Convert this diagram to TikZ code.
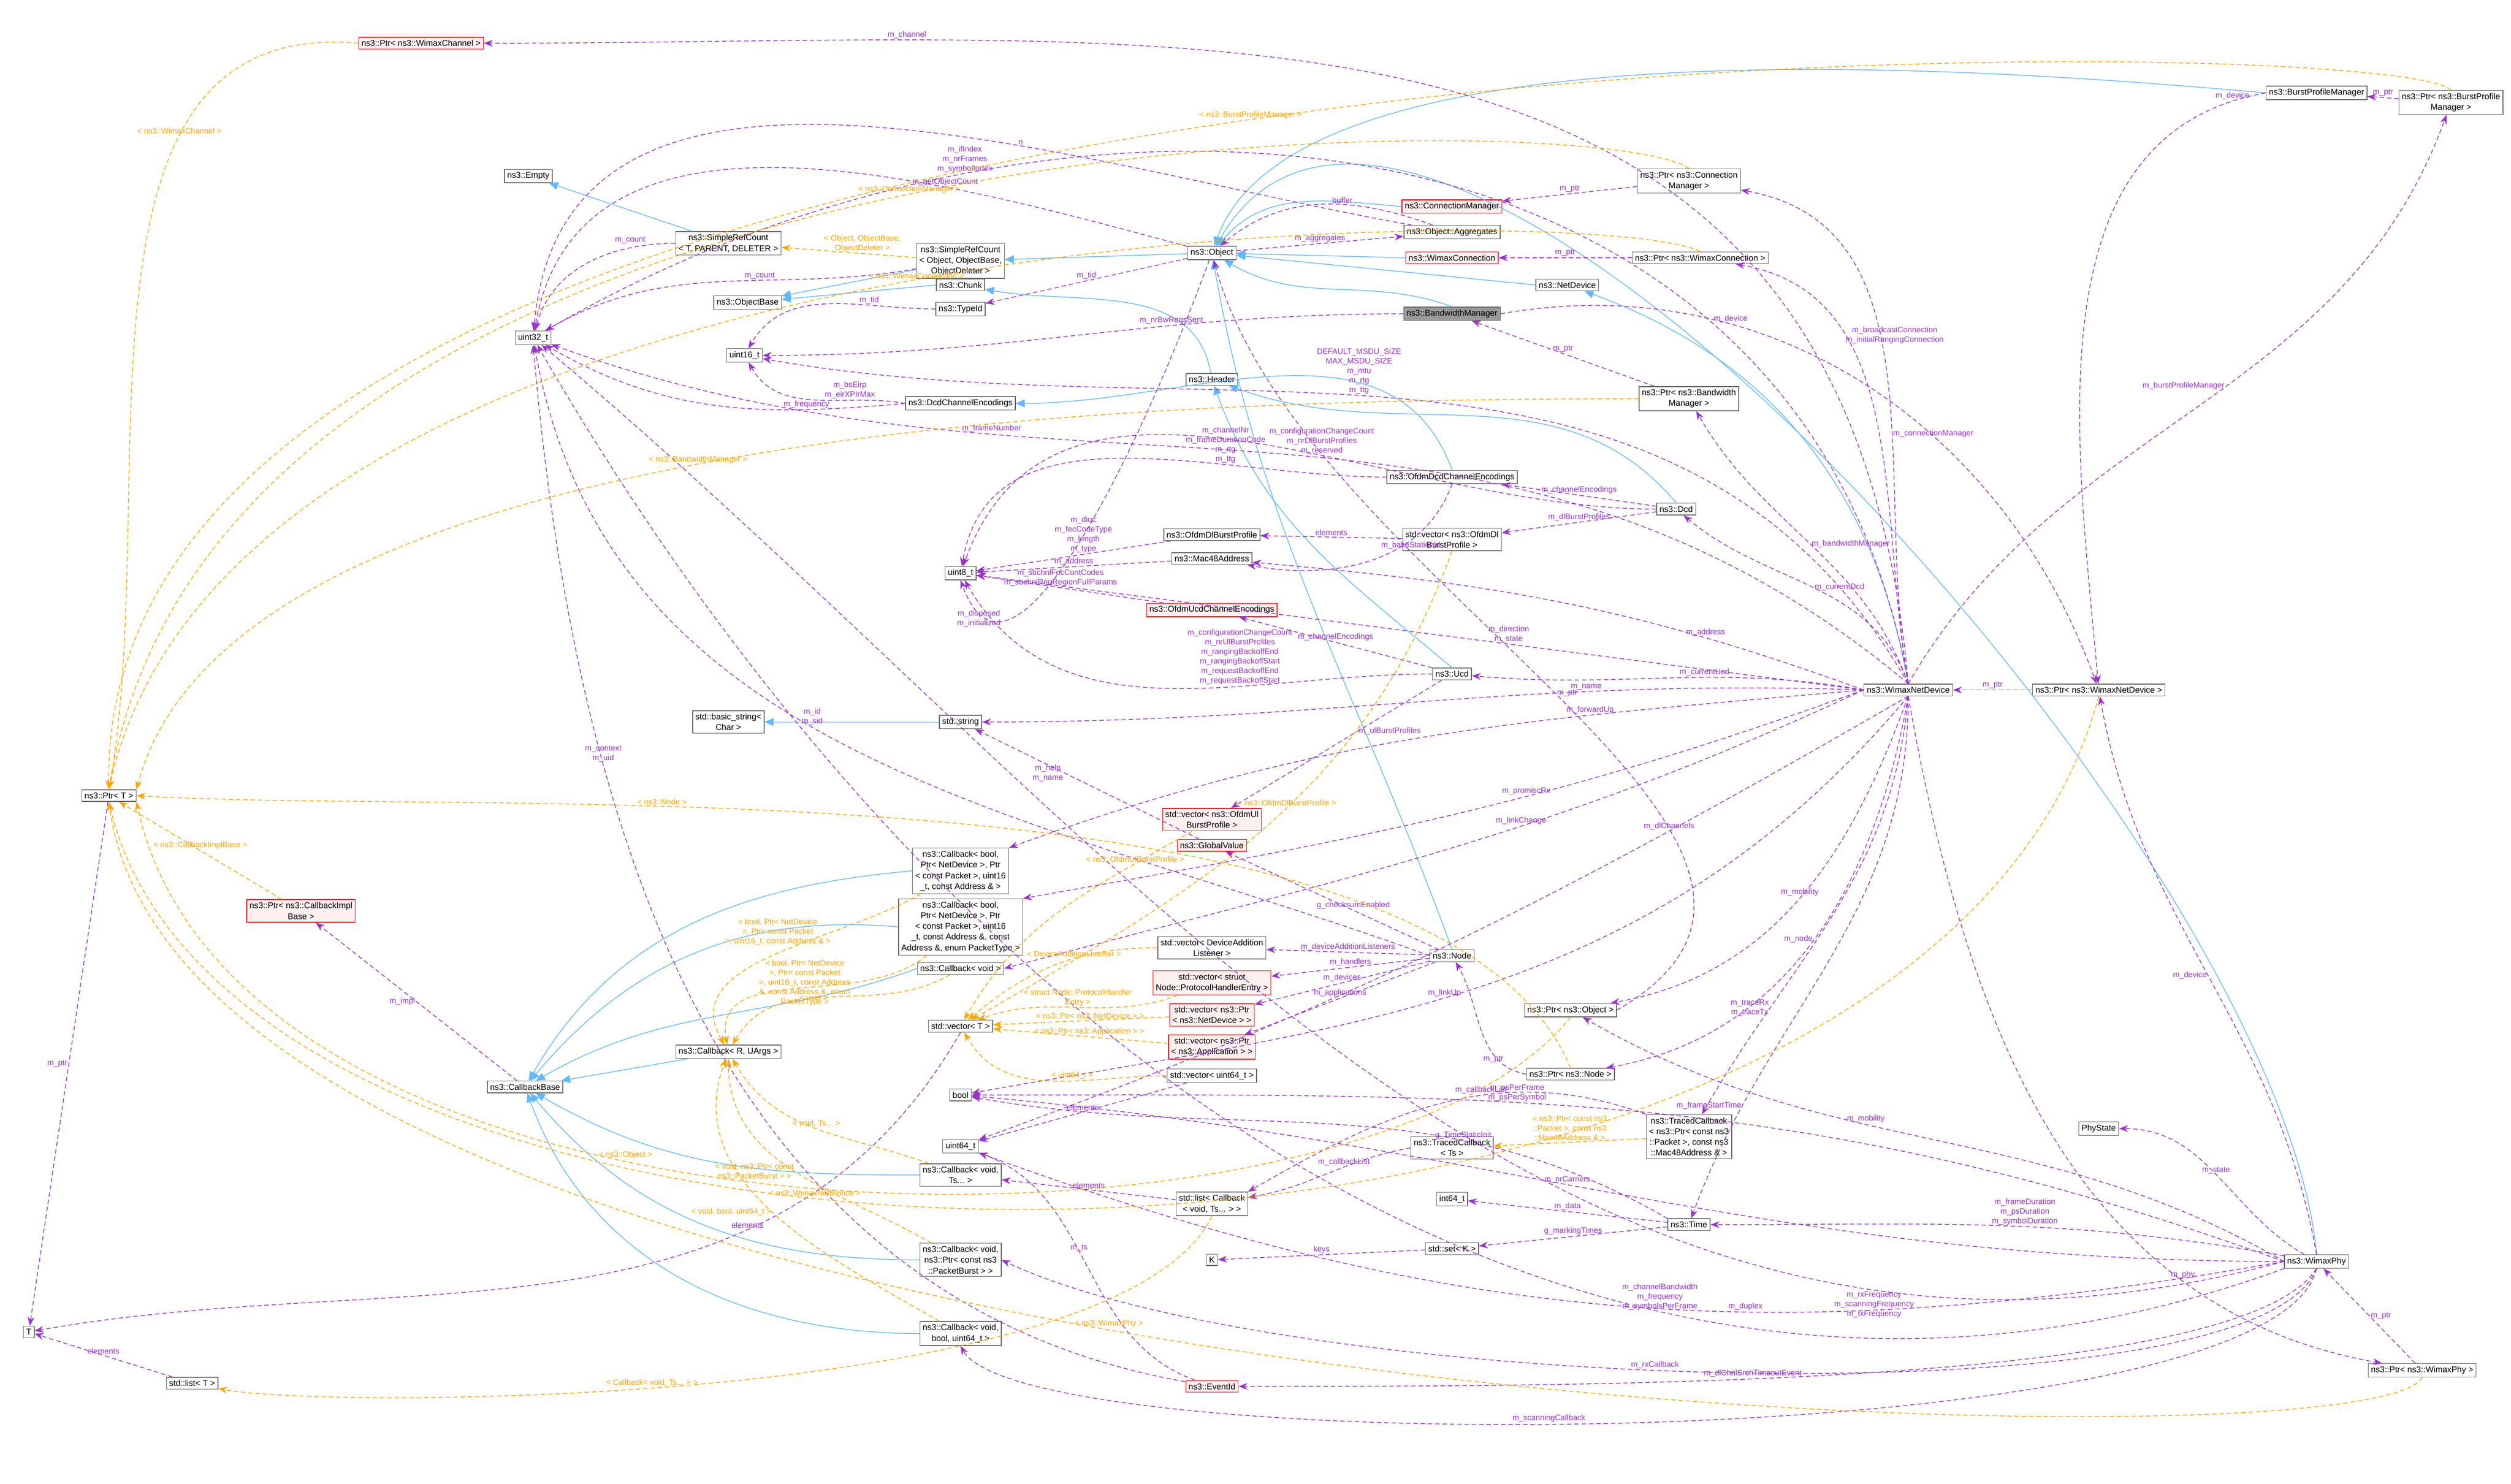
\documentclass[tikz,border=0pt]{standalone}
\usepackage{fontspec}
\setmainfont{Liberation Sans}
\usetikzlibrary{arrows.meta,positioning}
\definecolor{usecol}{HTML}{9A32CD}
\definecolor{inhcol}{HTML}{63B8FF}
\definecolor{tplcol}{HTML}{FFA500}
\begin{document}
\begin{tikzpicture}[
    x=0.03cm, y=-0.03cm,
    % class boxes
    cls/.style={
        draw=black!60,
        fill=white,
        line width=0.36pt,
        font=\fontsize{4.5}{5.7}\selectfont,
        align=center,
        inner sep=1.5pt
    },
    redcls/.style={
        cls,
        draw=red,
        fill=red!6
    },
    graycls/.style={
        cls,
        fill=black!40
    },
    lbl/.style={
        font=\fontsize{4.2}{5.1}\selectfont,
        align=center,
        inner sep=0.6pt
    },
    inherit/.style={
        -{Triangle[length=4.8pt,width=4.2pt,fill=inhcol]},
        line width=0.4pt,
        inhcol
    },
    usage/.style={
        -{Stealth[length=4.8pt,width=3.6pt]},
        dash pattern=on 2.4pt off 1.5pt,
        line width=0.4pt,
        usecol
    },
    tmpl/.style={
        -{Stealth[length=4.8pt,width=3.6pt]},
        dash pattern=on 2.4pt off 1.5pt,
        line width=0.4pt,
        tplcol
    }
]
    \useasboundingbox (0,0) rectangle (1568.5,926.7);

    % Base types and core classes
    \node[redcls] (ptrWimaxChannel) at (263,27) {ns3::Ptr< ns3::WimaxChannel >};
    \node[cls] (empty) at (330,110) {ns3::Empty};
    \node[cls] (srcTpd) at (455,152) {ns3::SimpleRefCount\\< T, PARENT, DELETER >};
    \node[cls] (srcObj) at (600,163) {ns3::SimpleRefCount\\< Object, ObjectBase,\\ObjectDeleter >};
    \node[cls] (objBase) at (467,189) {ns3::ObjectBase};
    \node[cls] (u32) at (333,211) {uint32\_t};
    \node[cls] (chunk) at (600,178) {ns3::Chunk};
    \node[cls] (typeId) at (600,193) {ns3::TypeId};
    \node[cls] (u16) at (465,222) {uint16\_t};
    \node[cls] (object) at (757,158) {ns3::Object};
    \node[redcls] (connMgr) at (907,129) {ns3::ConnectionManager};
    \node[cls] (aggregates) at (907,145) {ns3::Object::Aggregates};
    \node[redcls] (wimaxConn) at (907,161) {ns3::WimaxConnection};
    \node[cls] (netDevice) at (979,178) {ns3::NetDevice};
    \node[graycls] (bwMgr) at (907,196) {ns3::BandwidthManager};
    \node[cls] (ptrConnMgr) at (1055,113) {ns3::Ptr< ns3::Connection\\Manager >};
    \node[cls] (ptrWimaxConn) at (1062,161) {ns3::Ptr< ns3::WimaxConnection >};
    \node[cls] (bpMgr) at (1447,58) {ns3::BurstProfileManager};
    \node[cls] (ptrBpMgr) at (1531,64) {ns3::Ptr< ns3::BurstProfile\\Manager >};
    \node[cls] (header) at (757,237) {ns3::Header};
    \node[cls] (dcdEnc) at (600,252) {ns3::DcdChannelEncodings};
    \node[cls] (ptrBwMgr) at (1055,249) {ns3::Ptr< ns3::Bandwidth\\Manager >};
    \node[cls] (ofdmDcdEnc) at (907,298) {ns3::OfdmDcdChannelEncodings};
    \node[cls] (dcd) at (1047,318) {ns3::Dcd};
    \node[cls] (ofdmDl) at (757,334) {ns3::OfdmDlBurstProfile};
    \node[cls] (vecDl) at (907,337) {std::vector< ns3::OfdmDl\\BurstProfile >};
    \node[cls] (mac48) at (757,349) {ns3::Mac48Address};
    \node[cls] (u8) at (600,358) {uint8\_t};
    \node[redcls] (ofdmUcdEnc) at (757,381) {ns3::OfdmUcdChannelEncodings};
    \node[cls] (ucd) at (907,421) {ns3::Ucd};
    \node[cls] (wnd) at (1192,431) {ns3::WimaxNetDevice};
    \node[cls] (ptrWnd) at (1311,431) {ns3::Ptr< ns3::WimaxNetDevice >};
    \node[cls] (basicStr) at (455,451) {std::basic\_string<\\Char >};
    \node[cls] (stdStr) at (600,451) {std::string};
    \node[cls] (ptrT) at (68,497) {ns3::Ptr< T >};
    \node[redcls] (vecUl) at (757,512) {std::vector< ns3::OfdmUl\\BurstProfile >};
    \node[redcls] (globalValue) at (757,528) {ns3::GlobalValue};
    \node[cls] (cbRecv) at (600,544) {ns3::Callback< bool,\\Ptr< NetDevice >, Ptr\\< const Packet >, uint16\\\_t, const Address \& >};
    \node[redcls] (ptrCbImpl) at (188,569) {ns3::Ptr< ns3::CallbackImpl\\Base >};
    \node[cls] (cbPromisc) at (600,579) {ns3::Callback< bool,\\Ptr< NetDevice >, Ptr\\< const Packet >, uint16\\\_t, const Address \&, const\\Address \&, enum PacketType >};
    \node[cls] (vecDal) at (757,592) {std::vector< DeviceAddition\\Listener >};
    \node[cls] (cbVoid) at (600,605) {ns3::Callback< void >};
    \node[cls] (node) at (907,597) {ns3::Node};
    \node[redcls] (vecPhe) at (757,614) {std::vector< struct\\Node::ProtocolHandlerEntry >};
    \node[cls] (ptrObj) at (981,631) {ns3::Ptr< ns3::Object >};
    \node[redcls] (vecNd) at (757,634) {std::vector< ns3::Ptr\\< ns3::NetDevice > >};
    \node[cls] (vecT) at (600,641) {std::vector< T >};
    \node[cls] (cbR) at (455,657) {ns3::Callback< R, UArgs >};
    \node[redcls] (vecApp) at (757,654) {std::vector< ns3::Ptr\\< ns3::Application > >};
    \node[cls] (cbBase) at (328,679) {ns3::CallbackBase};
    \node[cls] (vecU64) at (757,672) {std::vector< uint64\_t >};
    \node[cls] (ptrNode) at (981,671) {ns3::Ptr< ns3::Node >};
    \node[cls] (boolT) at (600,684) {bool};
    \node[cls] (u64) at (600,716) {uint64\_t};
    \node[cls] (cbVoidTs) at (600,734) {ns3::Callback< void,\\Ts... >};
    \node[cls] (tracedCb) at (907,717) {ns3::TracedCallback\\< Ts >};
    \node[cls] (tracedCbPkt) at (1055,710) {ns3::TracedCallback\\< ns3::Ptr< const ns3\\::Packet >, const ns3\\::Mac48Address \& >};
    \node[cls] (phyState) at (1311,705) {PhyState};
    \node[cls] (listCb) at (757,752) {std::list< Callback\\< void, Ts... > >};
    \node[cls] (i64) at (907,749) {int64\_t};
    \node[cls] (time) at (1055,765) {ns3::Time};
    \node[cls] (setK) at (907,780) {std::set< K >};
    \node[cls] (kT) at (757,787) {K};
    \node[cls] (wimaxPhy) at (1447,788) {ns3::WimaxPhy};
    \node[cls] (cbPktBurst) at (600,787) {ns3::Callback< void,\\ns3::Ptr< const ns3\\::PacketBurst > >};
    \node[cls] (tT) at (18,832) {T};
    \node[cls] (cbVoidBool) at (600,833) {ns3::Callback< void,\\bool, uint64\_t >};
    \node[cls] (listT) at (120,864) {std::list< T >};
    \node[redcls] (eventId) at (757,866) {ns3::EventId};
    \node[cls] (ptrWimaxPhy) at (1513,856) {ns3::Ptr< ns3::WimaxPhy >};

    % Inheritance
    \draw[inherit] (srcTpd) -- (empty);
    \draw[inherit] (srcObj) -- (objBase);
    \draw[inherit] (chunk.west) -- (objBase);
    \draw[inherit] (object) -- (srcObj);
    \draw[inherit] (connMgr.west) to[out=175,in=50] (object);
    \draw[inherit] (wimaxConn.west) -- (object);
    \draw[inherit] (netDevice.west) -- (object);
    \draw[inherit] (bwMgr.north) to[out=160,in=-30] (object);
    \draw[inherit] (bpMgr.west) to[out=175,in=70,looseness=0.6] (object);
    \draw[inherit] (wimaxPhy.north) to[out=95,in=60,looseness=0.7] (object);
    \draw[inherit] (header) to[out=100,in=-10] (chunk);
    \draw[inherit] (ofdmDcdEnc.north) to[out=110,in=0] (dcdEnc);
    \draw[inherit] (dcd.north) to[out=130,in=-20] (header);
    \draw[inherit] (ucd.north) to[out=140,in=-70] (header);
    \draw[inherit] (node.north) to[out=110,in=-80] (object);
    \draw[inherit] (wnd.north) to[out=100,in=-20] (netDevice);
    \draw[inherit] (stdStr) -- (basicStr);
    \draw[inherit] (cbRecv.west) to[out=185,in=60] (cbBase);
    \draw[inherit] (cbPromisc.west) to[out=175,in=50] (cbBase);
    \draw[inherit] (cbVoid.west) to[out=200,in=30] (cbBase);
    \draw[inherit] (cbR) -- (cbBase);
    \draw[inherit] (cbVoidTs.west) to[out=180,in=-30] (cbBase);
    \draw[inherit] (cbPktBurst.west) to[out=180,in=-50] (cbBase);
    \draw[inherit] (cbVoidBool.west) to[out=180,in=-70] (cbBase);

    % Members: object core
    \draw[usage] (object) to[out=165,in=80] node[lbl,pos=0.3,above] {m\_getObjectCount} (u32);
    \draw[usage] (aggregates) to[out=170,in=85] node[lbl,pos=0.35,above] {n} (u32);
    \draw[usage] (aggregates) to[out=160,in=40] node[lbl,pos=0.4,above] {buffer} (object);
    \draw[usage] (object) -- node[lbl,above] {m\_aggregates} (aggregates);
    \draw[usage] (object) -- node[lbl,above] {m\_tid} (typeId);
    \draw[usage] (typeId) to[out=180,in=60] node[lbl,above,pos=0.3] {m\_tid} (u16);
    \draw[usage] (srcTpd) to[out=180,in=75] node[lbl,above left,pos=0.15] {m\_count} (u32);
    \draw[usage] (srcObj) to[out=190,in=30] node[lbl,above,pos=0.4] {m\_count} (u32);
    \draw[usage] (ptrConnMgr) -- node[lbl,above] {m\_ptr} (connMgr);
    \draw[usage] (ptrWimaxConn) -- node[lbl,above] {m\_ptr} (wimaxConn);
    \draw[usage] (ptrBwMgr) -- node[lbl,above] {m\_ptr} (bwMgr);
    \draw[usage] (ptrBpMgr) -- node[lbl,above] {m\_ptr} (bpMgr);
    \draw[usage] (bpMgr.west) to[out=190,in=95] node[lbl,above,pos=0.05] {m\_device} (ptrWnd);
    \draw[usage] (bwMgr.east) to[out=10,in=110] node[lbl,above,pos=0.3] {m\_device} (ptrWnd);
    \draw[usage] (bwMgr.west) to[out=180,in=0] node[lbl,above,pos=0.35] {m\_nrBwReqsSent} (u16);

    % Members: WimaxNetDevice
    \draw[usage] (wnd.north) to[out=95,in=0,looseness=1.2] node[lbl,above,pos=0.8] {m\_channel} (ptrWimaxChannel);
    \draw[usage] (wnd.north) to[out=100,in=-10] node[lbl,right,pos=0.4] {m\_connectionManager} (ptrConnMgr);
    \draw[usage] (wnd.north) to[out=100,in=-10] node[lbl,right,pos=0.7] {m\_broadcastConnection\\m\_initialRangingConnection} (ptrWimaxConn);
    \draw[usage] (wnd.north) to[out=110,in=-60] node[lbl,right,pos=0.5] {m\_bandwidthManager} (ptrBwMgr);
    \draw[usage] (wnd.north) to[out=60,in=-110] node[lbl,left,pos=0.55] {m\_burstProfileManager} (ptrBpMgr);
    \draw[usage] (wnd.north) to[out=110,in=-40] node[lbl,right,pos=0.5] {m\_currentDcd} (dcd);
    \draw[usage] (wnd.west) to[out=170,in=-5] node[lbl,above,pos=0.4] {m\_currentUcd} (ucd);
    \draw[usage] (wnd.west) to[out=160,in=-5] node[lbl,above,pos=0.25] {m\_address} (mac48);
    \draw[usage] (wnd.west) -- node[lbl,above,pos=0.4] {m\_direction\\m\_state} (u8);
    \draw[usage] (wnd.west) to[out=178,in=0] node[lbl,above,pos=0.3] {m\_name} (stdStr);
    \draw[usage] (wnd.west) to[out=185,in=20] node[lbl,above,pos=0.3] {m\_forwardUp} (cbRecv.north east);
    \draw[usage] (wnd.west) to[out=200,in=10] node[lbl,above,pos=0.4] {m\_promiscRx} (cbPromisc.north east);
    \draw[usage] (wnd.west) to[out=205,in=15] node[lbl,above,pos=0.4] {m\_linkChange} (cbVoid.east);
    \draw[usage] (wnd.north) to[out=120,in=-10] node[lbl,above,pos=0.55] {DEFAULT\_MSDU\_SIZE\\MAX\_MSDU\_SIZE\\m\_mtu\\m\_rtg\\m\_ttg} (u16);
    \draw[usage] (wnd.north) to[out=140,in=-20] node[lbl,above,pos=0.7] {m\_frameNumber} (u32);
    \draw[usage] (wnd.north) to[out=100,in=30,looseness=1.1] node[lbl,above,pos=0.75] {m\_ifIndex\\m\_nrFrames\\m\_symbolIndex} (u32);
    \draw[usage] (wnd.south) to[out=-100,in=10] node[lbl,left,pos=0.5] {m\_node} (ptrNode);
    \draw[usage] (wnd.south) to[out=-110,in=10] node[lbl,above,pos=0.5] {m\_mobility} (ptrObj);
    \draw[usage] (wnd.south) to[out=-95,in=60] node[lbl,left,pos=0.75] {m\_traceRx\\m\_traceTx} (tracedCbPkt);
    \draw[usage] (wnd.south) to[out=-90,in=70] node[lbl,left,pos=0.8] {m\_frameStartTime} (time);
    \draw[usage] (wnd.south) to[out=-150,in=20] node[lbl,above,pos=0.25] {m\_dlChannels} (u64);
    \draw[usage] (wnd.south) to[out=-130,in=10] node[lbl,above,pos=0.55] {m\_linkUp} (boolT);
    \draw[usage] (ptrWnd) -- node[lbl,above] {m\_ptr} (wnd);
    \draw[usage] (wnd.south) to[out=-80,in=170] node[lbl,above,pos=0.75] {m\_phy} (ptrWimaxPhy);

    % Members: channel encodings and bursts
    \draw[usage] (dcdEnc.west) to[out=170,in=-60] node[lbl,above,pos=0.3] {m\_bsEirp\\m\_eirXPIrMax} (u16);
    \draw[usage] (dcdEnc.west) to[out=185,in=-30] node[lbl,above,pos=0.25] {m\_frequency} (u32);
    \draw[usage] (ofdmDcdEnc.west) to[out=180,in=80] node[lbl,above,pos=0.3] {m\_channelNr\\m\_frameDurationCode\\m\_rtg\\m\_ttg} (u8);
    \draw[usage] (ofdmDcdEnc.south) to[out=-110,in=-10] node[lbl,below,pos=0.3] {m\_baseStationId} (mac48);
    \draw[usage] (dcd) -- node[lbl,above] {m\_channelEncodings} (ofdmDcdEnc);
    \draw[usage] (dcd.west) to[out=180,in=70] node[lbl,above,pos=0.4] {m\_configurationChangeCount\\m\_nrDlBurstProfiles\\m\_reserved} (u8);
    \draw[usage] (dcd) -- node[lbl,above] {m\_dlBurstProfiles} (vecDl);
    \draw[usage] (vecDl) -- node[lbl,above] {elements} (ofdmDl);
    \draw[usage] (ofdmDl) -- node[lbl,above,pos=0.45] {m\_diuc\\m\_fecCodeType\\m\_length\\m\_type} (u8);
    \draw[usage] (mac48) -- node[lbl,above] {m\_address} (u8);
    \draw[usage] (ofdmUcdEnc) -- node[lbl,above,pos=0.55] {m\_sbchnlFocContCodes\\m\_sbchnlReqRegionFullParams} (u8);
    \draw[usage] (ucd.north west) -- node[lbl,above,pos=0.5] {m\_channelEncodings} (ofdmUcdEnc);
    \draw[usage] (ucd.west) to[out=180,in=-60] node[lbl,above,pos=0.35] {m\_configurationChangeCount\\m\_nrUlBurstProfiles\\m\_rangingBackoffEnd\\m\_rangingBackoffStart\\m\_requestBackoffEnd\\m\_requestBackoffStart} (u8);
    \draw[usage] (ucd) -- node[lbl,right,pos=0.4] {m\_ulBurstProfiles} (vecUl);
    \draw[usage] (object) to[out=-110,in=-70] node[lbl,left,pos=0.8] {m\_disposed\\m\_initialized} (u8.south);

    % Members: node and globals
    \draw[usage] (globalValue) -- node[lbl,left,pos=0.6] {m\_help\\m\_name} (stdStr);
    \draw[usage] (node) -- node[lbl,above,pos=0.4] {g\_checksumEnabled} (globalValue);
    \draw[usage] (node.west) to[out=160,in=-80] node[lbl,above,pos=0.55] {m\_id\\m\_sid} (u32);
    \draw[usage] (node) -- node[lbl,above] {m\_deviceAdditionListeners} (vecDal);
    \draw[usage] (node) -- node[lbl,above] {m\_handlers} (vecPhe);
    \draw[usage] (node) -- node[lbl,above] {m\_devices} (vecNd);
    \draw[usage] (node) -- node[lbl,above] {m\_applications} (vecApp);
    \draw[usage] (ptrNode.west) to[out=170,in=-60] node[lbl,below,pos=0.3] {m\_ptr} (node);
    \draw[usage] (ptrObj.east) to[out=30,in=-75] node[lbl,right,pos=0.5] {m\_ptr} (object);
    \draw[usage] (vecT.south) to[out=-120,in=10] node[lbl,above,pos=0.3] {elements} (tT);
    \draw[usage] (listT) -- node[lbl,above] {elements} (tT);
    \draw[usage] (cbBase) -- node[lbl,left] {m\_impl} (ptrCbImpl);
    \draw[usage] (ptrT) -- node[lbl,left] {m\_ptr} (tT);

    % Members: callbacks, time, events
    \draw[usage] (tracedCb.west) to[out=190,in=10] node[lbl,above,pos=0.4] {m\_callbackList} (listCb);
    \draw[usage] (tracedCbPkt.north west) to[out=160,in=30] node[lbl,above,pos=0.4] {m\_callbackList} (listCb.north east);
    \draw[usage] (listCb) -- node[lbl,above] {elements} (cbVoidTs);
    \draw[usage] (vecU64) -- node[lbl,above] {elements} (u64);
    \draw[usage] (setK) -- node[lbl,above] {keys} (kT);
    \draw[usage] (time) -- node[lbl,above] {m\_data} (i64);
    \draw[usage] (time) -- node[lbl,above] {g\_markingTimes} (setK);
    \draw[usage] (time.north west) to[out=150,in=-10] node[lbl,above,pos=0.3] {g\_TimeStaticInit} (boolT);
    \draw[usage] (eventId) to[out=160,in=-20] node[lbl,above,pos=0.55] {m\_ts} (u64);
    \draw[usage] (eventId) to[out=170,in=-85] node[lbl,above,pos=0.7] {m\_context\\m\_uid} (u32.south);

    % Members: WimaxPhy
    \draw[usage] (wimaxPhy) to[out=150,in=0] node[lbl,above,pos=0.5] {m\_state} (phyState);
    \draw[usage] (wimaxPhy) to[out=170,in=0] node[lbl,above,pos=0.45] {m\_frameDuration\\m\_psDuration\\m\_symbolDuration} (time);
    \draw[usage] (wimaxPhy.west) to[out=180,in=-5] node[lbl,above,pos=0.55] {m\_nrCarriers} (boolT);
    \draw[usage] (wimaxPhy.west) to[out=190,in=-20] node[lbl,above,pos=0.4] {m\_duplex} (u64);
    \draw[usage] (wimaxPhy.west) to[out=195,in=-40] node[lbl,below,pos=0.2] {m\_rxFrequency\\m\_scanningFrequency\\m\_txFrequency} (u32);
    \draw[usage] (wimaxPhy.south west) to[out=200,in=-60] node[lbl,above,pos=0.3] {m\_channelBandwidth\\m\_frequency\\m\_symbolsPerFrame} (u32);
    \draw[usage] (wimaxPhy.south) .. controls (1400,866) and (1000,866) .. node[lbl,above,pos=0.6] {m\_dlChnlSrchTimeoutEvent} (eventId.east);
    \draw[usage] (wimaxPhy.south) .. controls (1410,890) and (800,870) .. node[lbl,above,pos=0.55] {m\_rxCallback} (cbPktBurst.east);
    \draw[usage] (wimaxPhy.south) .. controls (1420,912) and (640,912) .. node[lbl,above,pos=0.55] {m\_scanningCallback} (cbVoidBool.south);
    \draw[usage] (wimaxPhy.north) to[out=100,in=-80] node[lbl,left,pos=0.5] {m\_device} (ptrWnd);
    \draw[usage] (wimaxPhy.west) to[out=150,in=-30] node[lbl,above,pos=0.6] {m\_mobility} (ptrObj);
    \draw[usage] (wimaxPhy.west) to[out=160,in=0] node[lbl,above,pos=0.6] {m\_psPerFrame\\m\_psPerSymbol} (boolT);
    \draw[usage] (ptrWimaxPhy) -- node[lbl,right] {m\_ptr} (wimaxPhy);

    % Template instances of Ptr
    \draw[tmpl] (ptrWimaxChannel.west) to[out=175,in=80] node[lbl,above,pos=0.3] {< ns3::WimaxChannel >} (ptrT.north);
    \draw[tmpl] (ptrBpMgr.north) .. controls (1490,17) and (60,0) .. node[lbl,above,pos=0.5] {< ns3::BurstProfileManager >} (ptrT.north);
    \draw[tmpl] (ptrConnMgr.north) .. controls (1000,65) and (140,60) .. node[lbl,above,pos=0.5] {< ns3::ConnectionManager >} (ptrT.north);
    \draw[tmpl] (ptrWimaxConn.north) .. controls (1000,125) and (150,125) .. node[lbl,above,pos=0.5] {< ns3::WimaxConnection >} (ptrT.north);
    \draw[tmpl] (ptrBwMgr.west) .. controls (800,250) and (150,250) .. node[lbl,above,pos=0.55] {< ns3::BandwidthManager >} (ptrT.north east);
    \draw[tmpl] (ptrNode.north) .. controls (900,470) and (300,510) .. node[lbl,above,pos=0.65] {< ns3::Node >} (ptrT.east);
    \draw[tmpl] (ptrObj.south) .. controls (850,800) and (150,800) .. node[lbl,above,pos=0.6] {< ns3::Object >} (ptrT.south east);
    \draw[tmpl] (ptrWnd.south) .. controls (1200,850) and (150,850) .. node[lbl,above,pos=0.6] {< ns3::WimaxNetDevice >} (ptrT.south);
    \draw[tmpl] (ptrWimaxPhy.south) .. controls (1480,925) and (120,880) .. node[lbl,above,pos=0.55] {< ns3::WimaxPhy >} (ptrT.south);
    \draw[tmpl] (ptrCbImpl) -- node[lbl,above,pos=0.5] {< ns3::CallbackImplBase >} (ptrT);

    % Template instances of containers and callbacks
    \draw[tmpl] (srcObj) -- node[lbl,above,pos=0.4] {< Object, ObjectBase,\\ObjectDeleter >} (srcTpd);
    \draw[tmpl] (vecDl.south) to[out=-110,in=30] node[lbl,above,pos=0.45] {< ns3::OfdmDlBurstProfile >} (vecT);
    \draw[tmpl] (vecUl) to[out=-150,in=60] node[lbl,above,pos=0.2] {< ns3::OfdmUlBurstProfile >} (vecT);
    \draw[tmpl] (vecDal) to[out=180,in=40] node[lbl,above,pos=0.4] {< DeviceAdditionListener >} (vecT);
    \draw[tmpl] (vecPhe) to[out=-160,in=20] node[lbl,above,pos=0.5] {< struct Node::ProtocolHandler\\Entry >} (vecT);
    \draw[tmpl] (vecNd) -- node[lbl,above,pos=0.45] {< ns3::Ptr< ns3::NetDevice > >} (vecT);
    \draw[tmpl] (vecApp) -- node[lbl,above,pos=0.45] {< ns3::Ptr< ns3::Application > >} (vecT);
    \draw[tmpl] (vecU64) to[out=180,in=-60] node[lbl,above,pos=0.4] {< uint64\_t >} (vecT);
    \draw[tmpl] (cbRecv) to[out=-150,in=120] node[lbl,left,pos=0.3] {< bool, Ptr< NetDevice\\>, Ptr< const Packet\\>, uint16\_t, const Address \& >} (cbR);
    \draw[tmpl] (cbPromisc) to[out=-140,in=100] node[lbl,left,pos=0.3] {< bool, Ptr< NetDevice\\>, Ptr< const Packet\\>, uint16\_t, const Address\\\&, const Address \&, enum\\PacketType >} (cbR);
    \draw[tmpl] (cbVoid) to[out=-150,in=60] node[lbl,left,pos=0.5] {< void >} (cbR);
    \draw[tmpl] (cbVoidTs) to[out=160,in=-60] node[lbl,above,pos=0.5] {< void, Ts... >} (cbR);
    \draw[tmpl] (cbPktBurst) to[out=150,in=-90] node[lbl,left,pos=0.5] {< void, ns3::Ptr< const\\ns3::PacketBurst > >} (cbR);
    \draw[tmpl] (cbVoidBool) to[out=150,in=-110] node[lbl,left,pos=0.5] {< void, bool, uint64\_t >} (cbR);
    \draw[tmpl] (listCb.south) .. controls (700,880) and (200,880) .. node[lbl,above,pos=0.55] {< Callback< void, Ts... > >} (listT);
    \draw[tmpl] (tracedCbPkt) -- node[lbl,above,pos=0.5] {< ns3::Ptr< const ns3\\::Packet >, const ns3\\::Mac48Address \& >} (tracedCb);
\end{tikzpicture}
\end{document}
